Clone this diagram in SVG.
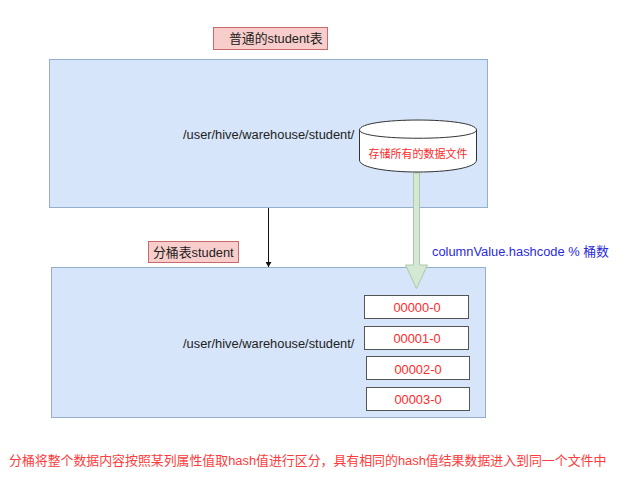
<svg xmlns="http://www.w3.org/2000/svg" width="628" height="481" viewBox="0 0 628 481">
<style>
text{font-family:"Liberation Sans","Noto Sans CJK SC",sans-serif;font-size:12.850px;fill:#222}
.panel{fill:#d6e5f9;stroke:#95aecb;stroke-width:1}
.tag{fill:#f8cecc;stroke:#c9696a;stroke-width:1}
.file{fill:#fff;stroke:#555;stroke-width:1}
.red{fill:#ff2a2a;text-anchor:middle}
</style>
<defs><marker id="tip" markerUnits="userSpaceOnUse" markerWidth="6" markerHeight="6" refX="5" refY="3" orient="auto"><path d="M0 0L5 3L0 6Z" fill="#111"/></marker></defs>
<rect width="628" height="481" fill="#fff"/>
<g id="panel-top"><rect class="panel" x="49.500" y="59.500" width="438" height="148"/><text x="183" y="138.500">/user/hive/warehouse/student/</text></g>
<g id="panel-bottom"><rect class="panel" x="51.500" y="267.500" width="434" height="150"/><text x="183" y="347.500">/user/hive/warehouse/student/</text></g>
<g id="label-top"><rect class="tag" x="213.500" y="27.500" width="114" height="22"/><text x="229" y="42.500">普通的student表</text></g>
<g id="label-bottom"><rect class="tag" x="148.500" y="241.500" width="90" height="21"/><text x="153" y="257">分桶表student</text></g>
<g id="connectors">
<path d="M268.500 208V267" fill="none" stroke="#111" marker-end="url(#tip)"/>
<path d="M413.500 173H419.500V265H427.500L416.500 288.500L405.500 265H413.500Z" fill="#d5e8d4" stroke="#adc8a6"/>
</g>
<g id="store"><path d="M359.500 130C359.500 116.700 476.500 116.700 476.500 130V160C476.500 176 359.500 176 359.500 160Z" fill="#fff" stroke="#333"/><path d="M359.500 130C359.500 141 476.500 141 476.500 130" fill="none" stroke="#333"/><text class="red" x="418" y="158" style="font-size:11px">存储所有的数据文件</text></g>
<g id="file0"><rect class="file" x="364.500" y="295.500" width="104" height="23"/><text class="red" x="417" y="312">00000-0</text></g>
<g id="file1"><rect class="file" x="364.500" y="326.500" width="104" height="23"/><text class="red" x="417" y="343">00001-0</text></g>
<g id="file2"><rect class="file" x="366.500" y="356.500" width="103" height="23"/><text class="red" x="418" y="373.500">00002-0</text></g>
<g id="file3"><rect class="file" x="366.500" y="387.500" width="103" height="23"/><text class="red" x="418" y="404">00003-0</text></g>
<text x="432" y="255.500" style="fill:#2a2ae0">columnValue.hashcode % 桶数</text>
<text x="9" y="465" style="fill:#ff3b3b;font-size:12.900px">分桶将整个数据内容按照某列属性值取hash值进行区分，具有相同的hash值结果数据进入到同一个文件中</text>
</svg>
